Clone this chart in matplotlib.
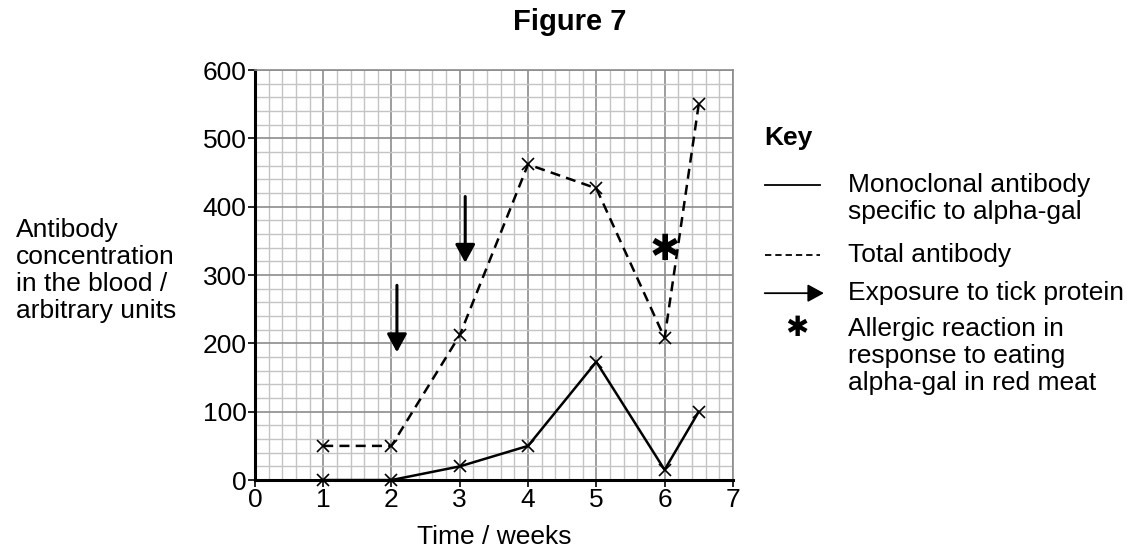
import numpy as np
import matplotlib
matplotlib.use('Agg')
import matplotlib.pyplot as plt
from matplotlib.lines import Line2D
from matplotlib.ticker import MultipleLocator

plt.rcParams['font.family'] = ['Liberation Sans', 'DejaVu Sans']
plt.rcParams['font.size'] = 19

# data
weeks = [1, 2, 3, 4, 5, 6, 6.5]
monoclonal = [0, 0, 20, 50, 173, 15, 100]
total = [50, 50, 212, 462, 427, 208, 550]

# exposure arrows: (x, y start, y end)
arrows = [(2.08, 285, 187), (3.08, 415, 318)]
# allergic reaction
star_x, star_y = 6.0, 337

fig = plt.figure(figsize=(11.38, 5.48), dpi=100)
ax = fig.add_axes([0.224, 0.124, 0.42, 0.748])

ax.set_xlim(0, 7)
ax.set_ylim(0, 600)
ax.xaxis.set_major_locator(MultipleLocator(1))
ax.yaxis.set_major_locator(MultipleLocator(100))
ax.xaxis.set_minor_locator(MultipleLocator(0.2))
ax.yaxis.set_minor_locator(MultipleLocator(20))
ax.grid(which='minor', color='#c4c4c4', linewidth=1.0)
ax.grid(which='major', color='#8c8c8c', linewidth=1.2)
ax.set_axisbelow(True)
ax.tick_params(which='minor', length=0)
ax.tick_params(which='major', length=5, width=1.2, direction='out', labelsize=19, pad=1)
for side in ['top', 'right']:
    ax.spines[side].set_color('#8c8c8c')
    ax.spines[side].set_linewidth(1.2)
for side in ['left', 'bottom']:
    ax.spines[side].set_color('black')
    ax.spines[side].set_linewidth(2.2)

ax.plot(weeks, monoclonal, color='black', lw=1.8, marker='x', ms=9, mew=1.2, clip_on=False, zorder=3)
ax.plot(weeks, total, color='black', lw=1.8, ls=(0, (4, 2.5)), marker='x', ms=9, mew=1.2, clip_on=False, zorder=3)

for x, y0, y1 in arrows:
    ax.annotate('', xy=(x, y1), xytext=(x, y0),
                arrowprops=dict(arrowstyle='-|>,head_length=0.55,head_width=0.3', mutation_scale=20,
                                color='black', lw=2.2, shrinkA=0, shrinkB=0))
ax.text(star_x, star_y, '\u2731', fontsize=26, family='DejaVu Sans', ha='center', va='center')

ax.set_xlabel('Time / weeks', fontsize=19, labelpad=9)

fig.text(0.501, 0.96, 'Figure 7', fontsize=21, fontweight='bold', ha='center', va='center')
fig.text(0.014, 0.507, 'Antibody\nconcentration\nin the blood /\narbitrary units', fontsize=19,
         ha='left', va='center', linespacing=1.16)

# key
fig.text(0.672, 0.748, 'Key', fontsize=19, fontweight='bold', va='center')
fig.add_artist(Line2D([0.672, 0.721], [0.662, 0.662], color='black', lw=1.3))
fig.text(0.745, 0.638, 'Monoclonal antibody\nspecific to alpha-gal', fontsize=19, va='center', linespacing=1.16)
fig.add_artist(Line2D([0.672, 0.721], [0.535, 0.535], color='black', lw=1.3, ls=(0, (3.5, 2.2))))
fig.text(0.745, 0.535, 'Total antibody', fontsize=19, va='center')
ax.annotate('', xy=(0.724, 0.465), xytext=(0.672, 0.465), xycoords='figure fraction',
            textcoords='figure fraction', annotation_clip=False,
            arrowprops=dict(arrowstyle='-|>,head_length=0.55,head_width=0.3', mutation_scale=18,
                            color='black', lw=1.3, shrinkA=0, shrinkB=0))
fig.text(0.745, 0.465, 'Exposure to tick protein', fontsize=19, va='center')
fig.text(0.7, 0.401, '\u2731', fontsize=20, family='DejaVu Sans', ha='center', va='center')
fig.text(0.745, 0.351, 'Allergic reaction in\nresponse to eating\nalpha-gal in red meat', fontsize=19, va='center', linespacing=1.16)

fig.savefig('out.png', dpi=100, facecolor='white')
